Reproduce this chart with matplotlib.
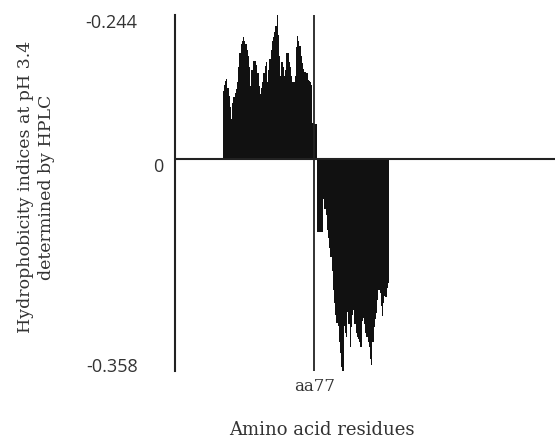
import numpy as np
import matplotlib
matplotlib.use('Agg')
import matplotlib.pyplot as plt
from matplotlib.transforms import ScaledTranslation

# hydrophobicity index per residue (residue 1..139)
positive_part = [
    0.115, 0.125, 0.132, 0.136, 0.120, 0.107, 0.088, 0.068, 0.095, 0.105,
    0.112, 0.119, 0.130, 0.155, 0.180, 0.195, 0.200, 0.207, 0.200, 0.194,
    0.185, 0.175, 0.155, 0.124, 0.150, 0.166, 0.166, 0.166, 0.160, 0.145,
    0.124, 0.110, 0.120, 0.130, 0.145, 0.158, 0.164, 0.131, 0.150, 0.169,
    0.185, 0.200, 0.206, 0.215, 0.225, 0.245, 0.210, 0.175, 0.140, 0.165,
    0.155, 0.140, 0.150, 0.180, 0.180, 0.165, 0.155, 0.140, 0.131, 0.131,
    0.140, 0.190, 0.208, 0.200, 0.192, 0.175, 0.163, 0.152, 0.147, 0.148,
    0.145, 0.133, 0.132, 0.131, 0.125, 0.060, 0.059, 0.059, 0.059,
]
negative_part = [
    -0.124, -0.124, -0.124, -0.124, -0.124, -0.068, -0.085, -0.095, -0.120, -0.135,
    -0.152, -0.167, -0.190, -0.222, -0.245, -0.265, -0.278, -0.284, -0.310, -0.330,
    -0.353, -0.363, -0.284, -0.295, -0.302, -0.260, -0.280, -0.319, -0.285, -0.265,
    -0.256, -0.280, -0.295, -0.302, -0.305, -0.310, -0.319, -0.275, -0.270, -0.280,
    -0.295, -0.303, -0.310, -0.320, -0.340, -0.349, -0.310, -0.285, -0.272, -0.261,
    -0.240, -0.222, -0.228, -0.250, -0.267, -0.245, -0.233, -0.235, -0.220, -0.210,
]
values = positive_part + negative_part
residues = np.arange(1, len(values) + 1)

ytick_values = [0.244, 0, -0.358]
ytick_labels = ['-0.244', '0', '-0.358']
marker_residue = 77
marker_label = 'aa77'

text_color = '#333333'
line_color = '#222222'

fig = plt.figure(figsize=(5.56, 4.38), dpi=100)
ax = fig.add_axes([175 / 556, 1 - 371 / 438, 380 / 556, 356 / 438])

ax.bar(residues, values, width=1.0, color='#111111', linewidth=0)
ax.axhline(0, color=line_color, lw=1.5)
ax.axvline(marker_residue, color=line_color, lw=1.3)

ax.set_xlim(-39.35, 278.1)
ax.set_ylim(-0.360, 0.244)

for side in ['top', 'right', 'bottom']:
    ax.spines[side].set_visible(False)
ax.spines['left'].set_color(line_color)
ax.spines['left'].set_linewidth(1.5)

ax.set_yticks(ytick_values)
ax.set_yticklabels(ytick_labels, fontfamily='Open Sans', fontsize=13, color=text_color)
ax.tick_params(axis='y', length=0, pad=27)
# labels sit a little off their exact positions in the original (px: dx, dy)
for lab, (dx, dy) in zip(ax.get_yticklabels(), [(0, -6), (26, -6.5), (0, 5)]):
    lab.set_transform(lab.get_transform() + ScaledTranslation(dx / 100, dy / 100, fig.dpi_scale_trans))

ax.set_xticks([marker_residue])
ax.set_xticklabels([marker_label], fontfamily='DejaVu Serif', fontsize=12, color=text_color)
ax.tick_params(axis='x', length=0, pad=5)

fig.text(322 / 556, 1 - 430 / 438, 'Amino acid residues', ha='center', va='center',
         fontfamily='DejaVu Serif', fontsize=13, color=text_color)
fig.text(36 / 556, 1 - 187 / 438, 'Hydrophobicity indices at pH 3.4\ndetermined by HPLC',
         rotation=90, ha='center', va='center', multialignment='center',
         fontfamily='DejaVu Serif', fontsize=12.5, color=text_color, linespacing=1.3)

fig.savefig('out.png', dpi=100)
